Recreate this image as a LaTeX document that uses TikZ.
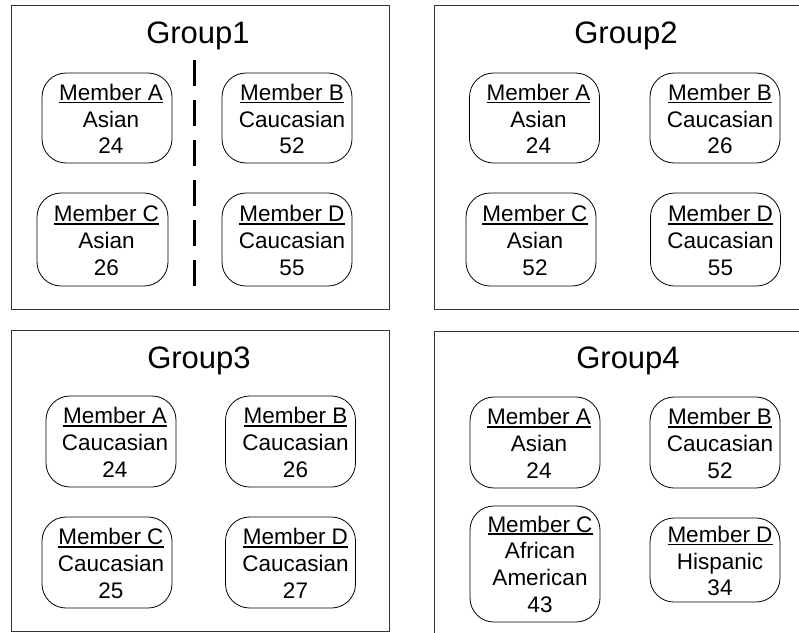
\documentclass[tikz,border=0pt]{standalone}
\usepackage{fontspec}
\setmainfont{Liberation Sans}
\newcommand{\myul}[1]{\leavevmode\setbox0=\hbox{#1}\rlap{\rule[-3pt]{\wd0}{1.7pt}}\box0}
\tikzset{
  grp/.style={draw=black!80, line width=1pt},
  memb/.style={draw, rounded corners=24pt, line width=0.8pt, minimum width=130pt, minimum height=90pt, inner sep=0pt},
  mtext/.style={font=\fontsize{22.5}{26.7}\selectfont, align=center, inner sep=0pt},
  gtitle/.style={font=\fontsize{31}{36}\selectfont, inner sep=0pt, anchor=base},
  divider/.style={line width=3pt, dash pattern=on 26pt off 14pt}
}
\begin{document}
\begin{tikzpicture}[x=1pt,y=-1pt]
\useasboundingbox (0,0) rectangle (799,632);
\clip (0,0) rectangle (799,632);
% group boxes
\draw[grp] (11,5) rectangle (389,309);
\draw[grp] (434,5) rectangle (810,309);
\draw[grp] (11,330) rectangle (389,631);
\draw[grp] (434,331) rectangle (810,645);
% titles
\node[gtitle] (t1) at (198,43) {Group1};
\node[gtitle] (t2) at (626,43) {Group2};
\node[gtitle] (t3) at (199,368) {Group3};
\node[gtitle] (t4) at (628,368) {Group4};
% Group 1
\node[memb] (g1a) at (107,118) {};
\node[memb] (g1b) at (287,118) {};
\node[memb, minimum width=131pt, minimum height=93pt] (g1c) at (102.5,239.5) {};
\node[memb, minimum height=93pt] (g1d) at (287,239.5) {};
\node[mtext] (g1at) at ([shift={(4,1)}]g1a.center) {\myul{Member A}\\Asian\\24};
\node[mtext] (g1bt) at ([shift={(5,1)}]g1b.center) {\myul{Member B}\\Caucasian\\52};
\node[mtext] (g1ct) at ([shift={(4,1)}]g1c.center) {\myul{Member C}\\Asian\\26};
\node[mtext] (g1dt) at ([shift={(5,1)}]g1d.center) {\myul{Member D}\\Caucasian\\55};
\coordinate (d1) at (194,60);
\coordinate (d2) at (194,287);
\draw[divider] (d1) -- (d2);
% Group 2
\node[memb] (g2a) at (534.5,118) {};
\node[memb] (g2b) at (715,118) {};
\node[memb, minimum height=93pt] (g2c) at (531,239.5) {};
\node[memb, minimum height=93pt] (g2d) at (715.5,239.5) {};
\node[mtext] (g2at) at ([shift={(4,1)}]g2a.center) {\myul{Member A}\\Asian\\24};
\node[mtext] (g2bt) at ([shift={(5,1)}]g2b.center) {\myul{Member B}\\Caucasian\\26};
\node[mtext] (g2ct) at ([shift={(4,1)}]g2c.center) {\myul{Member C}\\Asian\\52};
\node[mtext] (g2dt) at ([shift={(5,1)}]g2d.center) {\myul{Member D}\\Caucasian\\55};
% Group 3
\node[memb, minimum height=91pt] (g3a) at (111,441.5) {};
\node[memb, minimum height=91pt] (g3b) at (290.5,441.5) {};
\node[memb, minimum height=91pt] (g3c) at (107,562.5) {};
\node[memb, minimum height=91pt] (g3d) at (290.5,562.5) {};
\node[mtext] (g3at) at ([shift={(4,1)}]g3a.center) {\myul{Member A}\\Caucasian\\24};
\node[mtext] (g3bt) at ([shift={(5,1)}]g3b.center) {\myul{Member B}\\Caucasian\\26};
\node[mtext] (g3ct) at ([shift={(4,1)}]g3c.center) {\myul{Member C}\\Caucasian\\25};
\node[mtext] (g3dt) at ([shift={(5,1)}]g3d.center) {\myul{Member D}\\Caucasian\\27};
% Group 4
\node[memb, minimum height=91pt] (g4a) at (535,442.5) {};
\node[memb, minimum height=91pt] (g4b) at (715,442.5) {};
\node[memb, minimum height=116pt] (g4c) at (535,564) {};
\node[memb, minimum height=84pt] (g4d) at (715,560) {};
\node[mtext] (g4at) at ([shift={(4,1)}]g4a.center) {\myul{Member A}\\Asian\\24};
\node[mtext] (g4bt) at ([shift={(5,1)}]g4b.center) {\myul{Member B}\\Caucasian\\52};
\node[mtext] (g4ct) at ([shift={(5,0)}]g4c.center) {\myul{Member C}\\African\\American\\43};
\node[mtext] (g4dt) at ([shift={(5,1)}]g4d.center) {\myul{Member D}\\Hispanic\\34};
\end{tikzpicture}
\end{document}
